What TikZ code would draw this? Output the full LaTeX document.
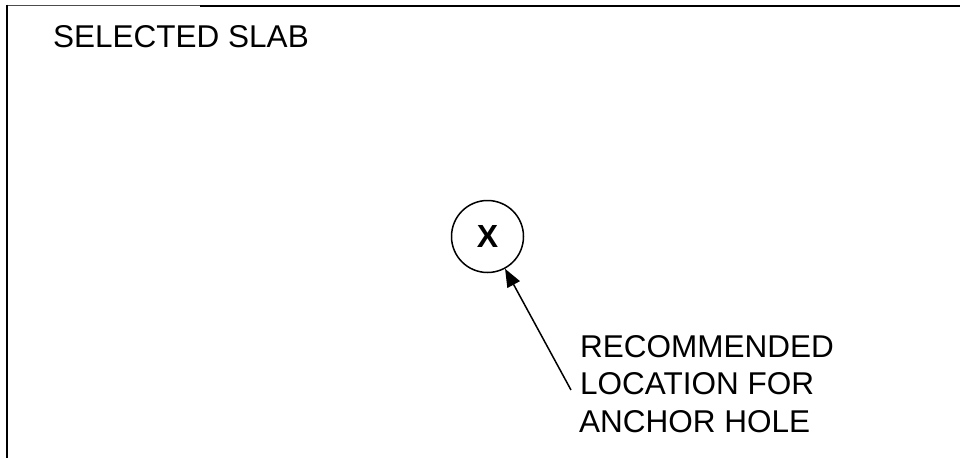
\documentclass[tikz,border=0pt]{standalone}
\usepackage{fontspec}
\setmainfont{Liberation Sans}
\usetikzlibrary{arrows.meta}
\begin{document}
\begin{tikzpicture}[x=1pt,y=-1pt,
  lbl/.style={anchor=base west,inner sep=0pt,font=\fontsize{31.5}{36}\selectfont},
  hole/.style={circle,draw,line width=1.5pt,minimum size=72pt,inner sep=0pt,
    font=\fontsize{32}{36}\selectfont\bfseries},
  leader/.style={line width=1.5pt,-{Triangle[length=18pt,width=14pt]}}]
\useasboundingbox (0,0) rectangle (960,458);
% slab outline (top and left edges)
\draw[line width=0.9pt,black!70] (6,5.5) -- (200,5.5);
\draw[line width=2pt] (200,5.5) -- (960,5.5);
\draw[line width=2pt] (6.5,4.5) -- (6.5,458);
\node[lbl] (title) at (53,47) {SELECTED SLAB};
% anchor hole
\node[hole] (x) at (487.5,236.5) {X};
% callout text
\node[lbl] (l1) at (580,357) {RECOMMENDED};
\node[lbl] (l2) at (580,394.5) {LOCATION FOR};
\node[lbl] (l3) at (579,432) {ANCHOR HOLE};
\coordinate (tail) at (571,390);
\draw[leader] (tail) -- (x);
\end{tikzpicture}
\end{document}
